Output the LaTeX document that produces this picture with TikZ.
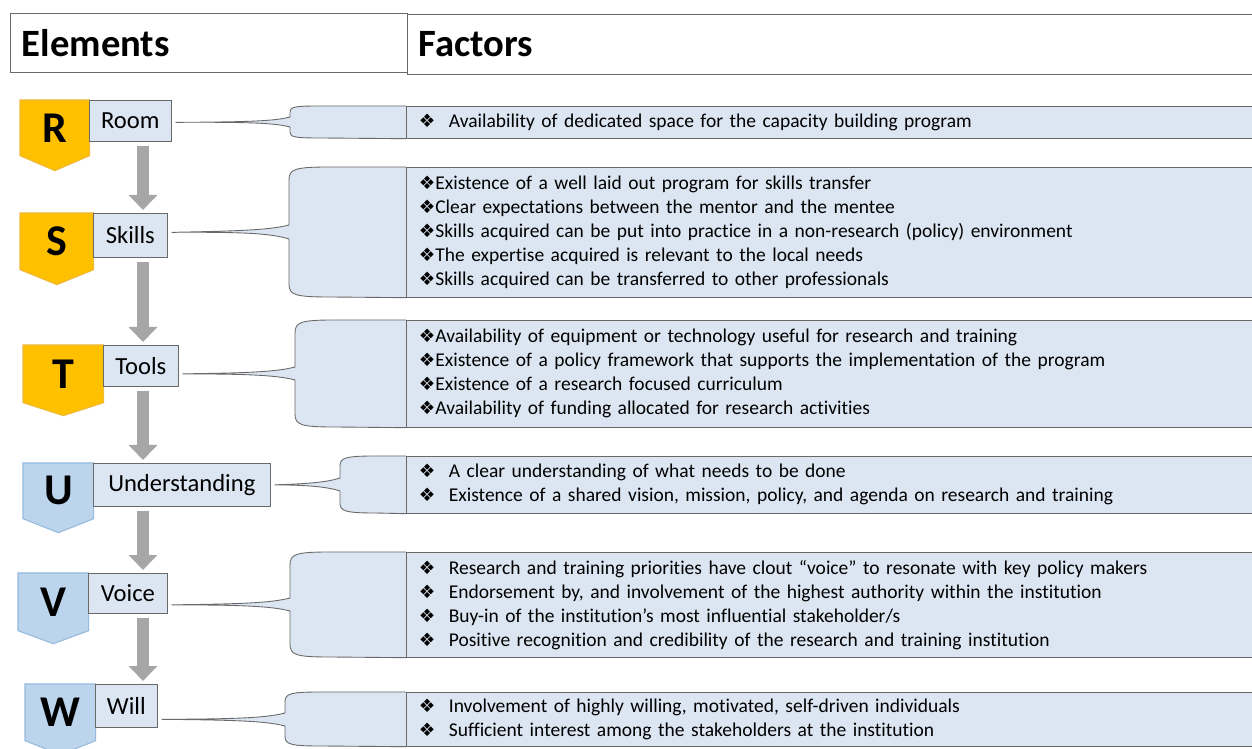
\documentclass[tikz,border=0pt]{standalone}
\usepackage{fontspec}
\setmainfont{Carlito}[Ligatures=NoCommon]
\newfontfamily\symfont{DejaVu Sans}
\usetikzlibrary{arrows.meta,calc,backgrounds}

\definecolor{paleblue}{RGB}{220,230,242}
\definecolor{edgegray}{RGB}{105,105,105}
\definecolor{gold}{RGB}{255,192,0}
\definecolor{goldedge}{RGB}{238,185,60}
\definecolor{tagblue}{RGB}{188,212,236}
\definecolor{tagblueedge}{RGB}{150,186,222}
\definecolor{flowgray}{RGB}{166,166,166}

% diamond bullets, with a wide or a narrow gap after them
\newcommand{\dia}{{\symfont\fontsize{10.5}{10.5}\selectfont ❖}}
\newcommand{\wb}{\makebox[0.6cm][l]{\dia}}
\newcommand{\nb}{\makebox[0.33cm][l]{\dia}}

\begin{document}
\begin{tikzpicture}[x=0.02cm, y=-0.02cm,
    header/.style={draw=edgegray, fill=white, anchor=north west, inner xsep=0.23cm, inner ysep=0pt, align=left, font=\fontsize{22}{26}\selectfont\bfseries},
    elem/.style={draw=edgegray, fill=paleblue, anchor=north west, inner sep=0pt, font=\fontsize{14}{16}\selectfont},
    letter/.style={anchor=north west, inner sep=0pt, font=\fontsize{25}{28}\selectfont\bfseries},
    tagshape/.style={fill=#1, draw=#1edge, line width=0.6pt},
    factor/.style={draw=edgegray, fill=paleblue, anchor=north west, inner xsep=0.25cm, inner ysep=0pt, text width=17cm, align=left, font=\fontsize{11.1}{13.66}\selectfont},
    callout/.style={draw=edgegray, fill=paleblue, line width=0.5pt},
    flow/.style={line width=0.24cm, flowgray, -{Triangle[width=0.56cm,length=0.3cm]}, shorten <=0.08cm, shorten >=0.06cm}
]
\useasboundingbox (0,0) rectangle (1252,749);
\clip (0,0) rectangle (1252,749);

% Column headers
\node[header, text width=7.48cm, minimum height=1.18cm] (helem) at (10,13) {Elements};
\node[header, text width=17cm, minimum height=1.2cm] (hfact) at (407,14) {Factors};

% Letter tags
\node[letter, minimum width=1.38cm, minimum height=1.1cm] (tR) at (20,100) {R};
\node[letter, minimum width=1.46cm, minimum height=1.12cm] (tS) at (20,213) {S};
\node[letter, minimum width=1.6cm, minimum height=1.14cm] (tT) at (23,345) {T};
\node[letter, minimum width=1.4cm, minimum height=1.1cm] (tU) at (23,463) {U};
\node[letter, minimum width=1.4cm, minimum height=1.14cm] (tV) at (18,573) {V};
\node[letter, minimum width=1.4cm, minimum height=1.12cm] (tW) at (25,684) {W};

% Elements
\node[elem, minimum width=1.64cm, minimum height=0.82cm] (room) at (89,100) {Room};
\node[elem, minimum width=1.48cm, minimum height=0.88cm] (skills) at (93,213) {Skills};
\node[elem, minimum width=1.5cm, minimum height=0.82cm] (tools) at (103,345) {Tools};
\node[elem, minimum width=3.54cm, minimum height=0.86cm] (underst) at (93,463) {Understanding};
\node[elem, minimum width=1.58cm, minimum height=0.8cm] (voice) at (88,573) {Voice};
\node[elem, minimum width=1.24cm, minimum height=0.86cm] (will) at (95,684) {Will};

% Factors
\node[factor, minimum height=0.64cm] (fR) at (406,106) {\wb Availability of dedicated space for the capacity building program};
\node[factor, minimum height=2.6cm] (fS) at (406,167) {%
  \nb Existence of a well laid out program for skills transfer\\
  \nb Clear expectations between the mentor and the mentee\\
  \nb Skills acquired can be put into practice in a non-research (policy) environment\\
  \nb The expertise acquired is relevant to the local needs\\
  \nb Skills acquired can be transferred to other professionals};
\node[factor, minimum height=2.14cm] (fT) at (406,320) {%
  \nb Availability of equipment or technology useful for research and training\\
  \nb Existence of a policy framework that supports the implementation of the program\\
  \nb Existence of a research focused curriculum\\
  \nb Availability of funding allocated for research activities};
\node[factor, minimum height=1.14cm] (fU) at (406,456) {%
  \wb A clear understanding of what needs to be done\\
  \wb Existence of a shared vision, mission, policy, and agenda on research and training};
\node[factor, minimum height=2.1cm] (fV) at (406,552) {%
  \wb Research and training priorities have clout “voice” to resonate with key policy makers\\
  \wb Endorsement by, and involvement of the highest authority within the institution\\
  \wb Buy-in of the institution’s most influential stakeholder/s\\
  \wb Positive recognition and credibility of the research and training institution};
\node[factor, minimum height=1.08cm] (fW) at (406,692) {%
  \wb Involvement of highly willing, motivated, self-driven individuals\\
  \wb Sufficient interest among the stakeholders at the institution};

\begin{scope}[on background layer]
\fill[white] (0,0) rectangle (1252,749);

% Tag outlines with the pointed bottom
\draw[tagshape=gold] (tR.north west) -- (tR.north east) -- (tR.south east) -- ($(tR.south)+(0,15)$) -- (tR.south west) -- cycle;
\draw[tagshape=gold] (tS.north west) -- (tS.north east) -- (tS.south east) -- ($(tS.south)+(0,15)$) -- (tS.south west) -- cycle;
\draw[tagshape=gold] (tT.north west) -- (tT.north east) -- (tT.south east) -- ($(tT.south)+(0,13)$) -- (tT.south west) -- cycle;
\draw[tagshape=tagblue] (tU.north west) -- (tU.north east) -- (tU.south east) -- ($(tU.south)+(0,14)$) -- (tU.south west) -- cycle;
\draw[tagshape=tagblue] (tV.north west) -- (tV.north east) -- (tV.south east) -- ($(tV.south)+(0,13)$) -- (tV.south west) -- cycle;
\draw[tagshape=tagblue] (tW.north west) -- (tW.north east) -- (tW.south east) -- ($(tW.south)+(0,14)$) -- (tW.south west) -- cycle;

% Callouts from each element to its factors
\filldraw[callout] (fR.north west) -- (320,106) .. controls (294,106) and (290,107) .. (290,112) -- (290,117)
  .. controls (275,121) and (250,122) .. ($(room.east |- fR.west)+(4,0)$)
  .. controls (250,122) and (275,123) .. (290,127) -- (290,132)
  .. controls (290,137) and (294,138) .. (320,138) -- (fR.south west);
\filldraw[callout] (fS.north west) -- (330,167) .. controls (295,167) and (289,169) .. (289,180) -- (289,225)
  .. controls (270,230) and (240,231) .. ($(skills.east |- fS.west)+(4,0)$)
  .. controls (240,232) and (270,233) .. (289,239) -- (289,284)
  .. controls (289,295) and (295,297) .. (330,297) -- (fS.south west);
\filldraw[callout] (fT.north west) -- (335,320) .. controls (301,320) and (295,322) .. (295,333) -- (295,367)
  .. controls (276,372) and (246,373) .. ($(tools.east |- fT.west)+(4,0)$)
  .. controls (246,374) and (276,375) .. (295,380) -- (295,414)
  .. controls (295,425) and (301,427) .. (335,427) -- (fT.south west);
\filldraw[callout] (fU.north west) -- (375,456) .. controls (345,456) and (340,458) .. (340,466) -- (340,478)
  .. controls (325,483) and (300,484) .. ($(underst.east |- fU.west)+(4,0)$)
  .. controls (300,485) and (325,486) .. (340,491) -- (340,503)
  .. controls (340,511) and (345,513) .. (375,513) -- (fU.south west);
\filldraw[callout] (fV.north west) -- (330,552) .. controls (296,552) and (290,554) .. (290,565) -- (290,598)
  .. controls (271,603) and (240,604) .. ($(voice.east |- fV.west)+(4,0)$)
  .. controls (240,605) and (271,606) .. (290,611) -- (290,644)
  .. controls (290,655) and (296,657) .. (330,657) -- (fV.south west);
\filldraw[callout] (fW.north west) -- (320,692) .. controls (289,692) and (285,694) .. (285,702) -- (285,713)
  .. controls (266,718) and (235,719) .. ($(will.east |- fW.west)+(4,0)$)
  .. controls (235,720) and (266,721) .. (285,726) -- (285,736)
  .. controls (285,744) and (289,746) .. (320,746) -- (fW.south west);
\end{scope}

% Flow between the elements
\coordinate (ax) at (143,0);
\draw[flow] (room.south -| ax) -- (skills.north -| ax);
\draw[flow] (skills.south -| ax) -- (tools.north -| ax);
\draw[flow] (tools.south -| ax) -- (underst.north -| ax);
\draw[flow] (underst.south -| ax) -- (voice.north -| ax);
\draw[flow] (voice.south -| ax) -- (will.north -| ax);
\end{tikzpicture}
\end{document}
